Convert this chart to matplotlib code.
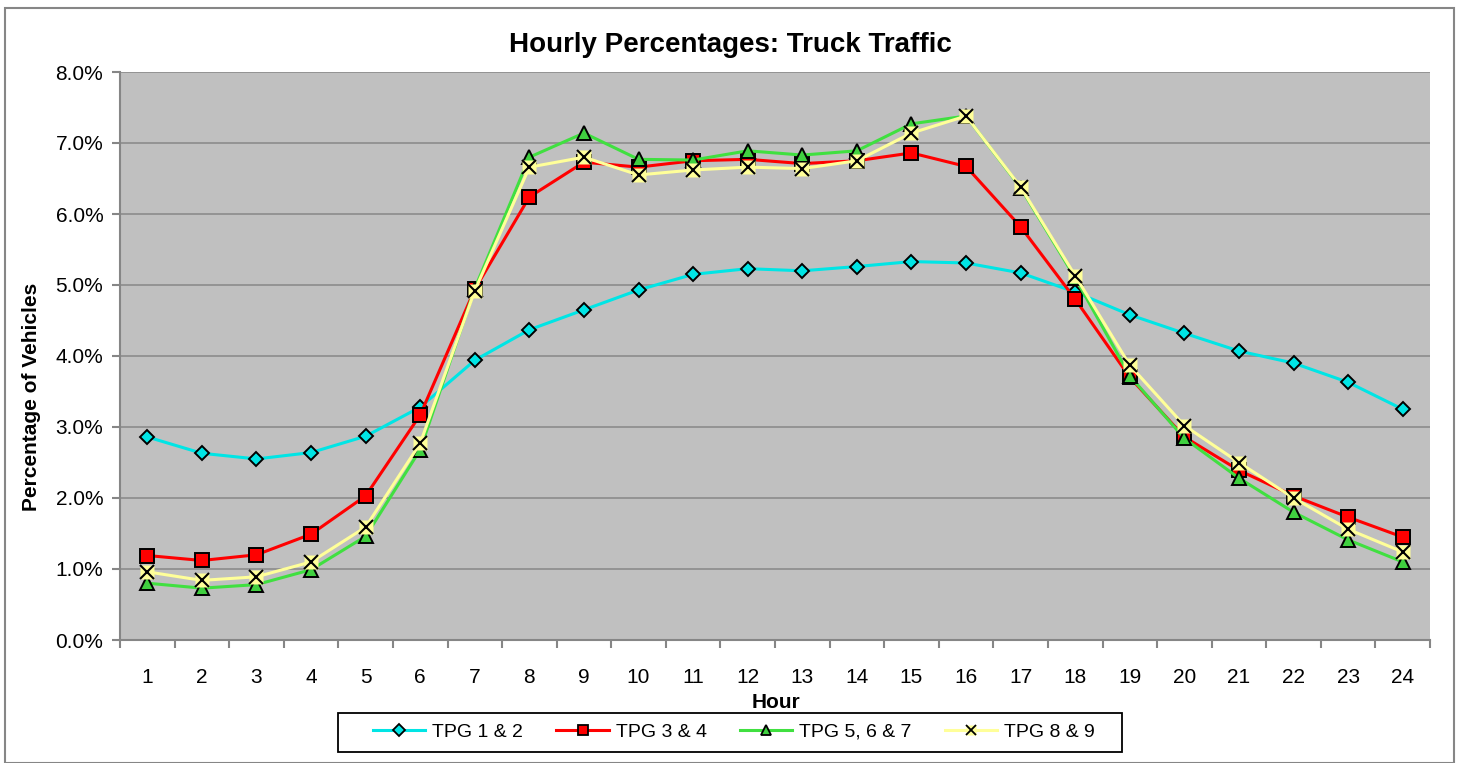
import matplotlib
matplotlib.use("Agg")
import matplotlib.pyplot as plt
from matplotlib.patches import Rectangle
from matplotlib.lines import Line2D
from matplotlib.ticker import FixedLocator, PercentFormatter

hours = list(range(1, 25))
hour_labels = [str(h) for h in hours]

tpg_1_2 = [2.86, 2.63, 2.55, 2.64, 2.87, 3.28, 3.94, 4.37, 4.65, 4.93, 5.15, 5.23,
           5.20, 5.26, 5.33, 5.31, 5.17, 4.90, 4.58, 4.32, 4.07, 3.90, 3.63, 3.25]
tpg_3_4 = [1.19, 1.12, 1.20, 1.49, 2.03, 3.17, 4.94, 6.24, 6.73, 6.66, 6.75, 6.77,
           6.71, 6.75, 6.86, 6.67, 5.82, 4.80, 3.70, 2.86, 2.39, 2.03, 1.73, 1.45]
tpg_5_6_7 = [0.80, 0.73, 0.78, 0.99, 1.46, 2.68, 4.95, 6.80, 7.14, 6.77, 6.76, 6.89,
             6.83, 6.89, 7.27, 7.38, 6.37, 5.10, 3.72, 2.84, 2.28, 1.80, 1.41, 1.10]
tpg_8_9 = [0.96, 0.84, 0.89, 1.10, 1.59, 2.77, 4.92, 6.66, 6.80, 6.55, 6.62, 6.66,
           6.64, 6.75, 7.14, 7.38, 6.38, 5.13, 3.87, 3.02, 2.50, 2.00, 1.56, 1.24]

series_names = ["TPG 1 & 2", "TPG 3 & 4", "TPG 5, 6 & 7", "TPG 8 & 9"]

plt.rcParams['font.family'] = ['Liberation Sans', 'DejaVu Sans']

W, H = 1458, 763
fig = plt.figure(figsize=(W / 100, H / 100), dpi=100)
fig.patch.set_facecolor("white")

# outer chart border
fig.patches.append(Rectangle((5 / W, 0), (1454 - 5) / W, 1 - 8 / H,
                             transform=fig.transFigure, fill=False,
                             edgecolor="#868686", linewidth=1.5))

L, R, T, B = 120, 1430, 72, 640
ax = fig.add_axes([L / W, 1 - B / H, (R - L) / W, (B - T) / H])
ax.set_facecolor("#C0C0C0")

lw = 2.2
mec = "black"
c1, c2, c3, c4 = "#00E5E5", "#FF0000", "#40E040", "#FFFF99"
ax.plot(hours, tpg_1_2, color=c1, lw=lw, marker="D", ms=7,
        mfc=c1, mec=mec, mew=1.4, zorder=3)
ax.plot(hours, tpg_3_4, color=c2, lw=lw, marker="s", ms=10,
        mfc=c2, mec=mec, mew=1.4, zorder=4)
ax.plot(hours, tpg_5_6_7, color=c3, lw=lw, marker="^", ms=10,
        mfc="#40D040", mec=mec, mew=1.4, zorder=5)
ax.plot(hours, tpg_8_9, color=c4, lw=lw, zorder=6)
ax.plot(hours, tpg_8_9, ls="none", marker="s", ms=10, mfc=c4,
        mec="none", zorder=7)
ax.plot(hours, tpg_8_9, ls="none", marker="x", ms=10, mec="black",
        mew=1.5, zorder=8)

ax.set_xlim(0.5, 24.5)
ax.set_ylim(0, 8)
ax.yaxis.set_major_locator(FixedLocator([0, 1, 2, 3, 4, 5, 6, 7, 8]))
ax.yaxis.set_major_formatter(PercentFormatter(decimals=1))
ax.grid(axis="y", color="#8C8C8C", lw=1.2)
ax.set_axisbelow(True)

ax.set_xticks([h + 0.5 for h in range(0, 25)])
ax.set_xticklabels([])
ax.set_xticks(hours, minor=True)
ax.set_xticklabels(hour_labels, minor=True)
ax.tick_params(axis="x", which="major", length=6, color="#868686", width=1.5)
ax.tick_params(axis="x", which="minor", length=0, labelsize=15, pad=20)
ax.tick_params(axis="y", length=6, color="#868686", width=1.5, labelsize=15, pad=6)

for s in ["top", "right"]:
    ax.spines[s].set_visible(False)
for s in ["left", "bottom"]:
    ax.spines[s].set_color("#868686")
    ax.spines[s].set_linewidth(1.5)

fig.text(730 / W, 1 - 45 / H, "Hourly Percentages: Truck Traffic",
         ha="center", va="center", fontsize=20, fontweight="bold")
fig.text(776 / W, 1 - 703 / H, "Hour", ha="center", va="center",
         fontsize=15, fontweight="bold")
fig.text(32 / W, 1 - 397 / H, "Percentage of Vehicles", ha="center",
         va="center", rotation=90, fontsize=15, fontweight="bold")

# legend box
fig.patches.append(Rectangle((338 / W, 1 - 752 / H), (1122 - 338) / W, 39 / H,
                             transform=fig.transFigure, fill=False,
                             edgecolor="black", linewidth=1.3))
h1 = Line2D([], [], color=c1, lw=lw, marker="D", ms=6, mfc=c1, mec=mec, mew=1.3)
h2 = Line2D([], [], color=c2, lw=lw, marker="s", ms=7, mfc=c2, mec=mec, mew=1.3)
h3 = Line2D([], [], color=c3, lw=lw, marker="^", ms=7, mfc="#40D040", mec=mec, mew=1.3)
h4a = Line2D([], [], color=c4, lw=lw, marker="s", ms=7, mfc=c4, mec="none")
h4b = Line2D([], [], ls="none", marker="x", ms=7, mec="black", mew=1.3)
leg = fig.legend([h1, h2, h3, (h4a, h4b)], series_names, loc="center",
                 bbox_to_anchor=(734 / W, 1 - 732 / H), ncol=4, fontsize=14,
                 frameon=False, handlelength=2.7, handletextpad=0.36,
                 columnspacing=1.7, borderpad=0.2)

fig.savefig("out.png", dpi=100, facecolor="white")
